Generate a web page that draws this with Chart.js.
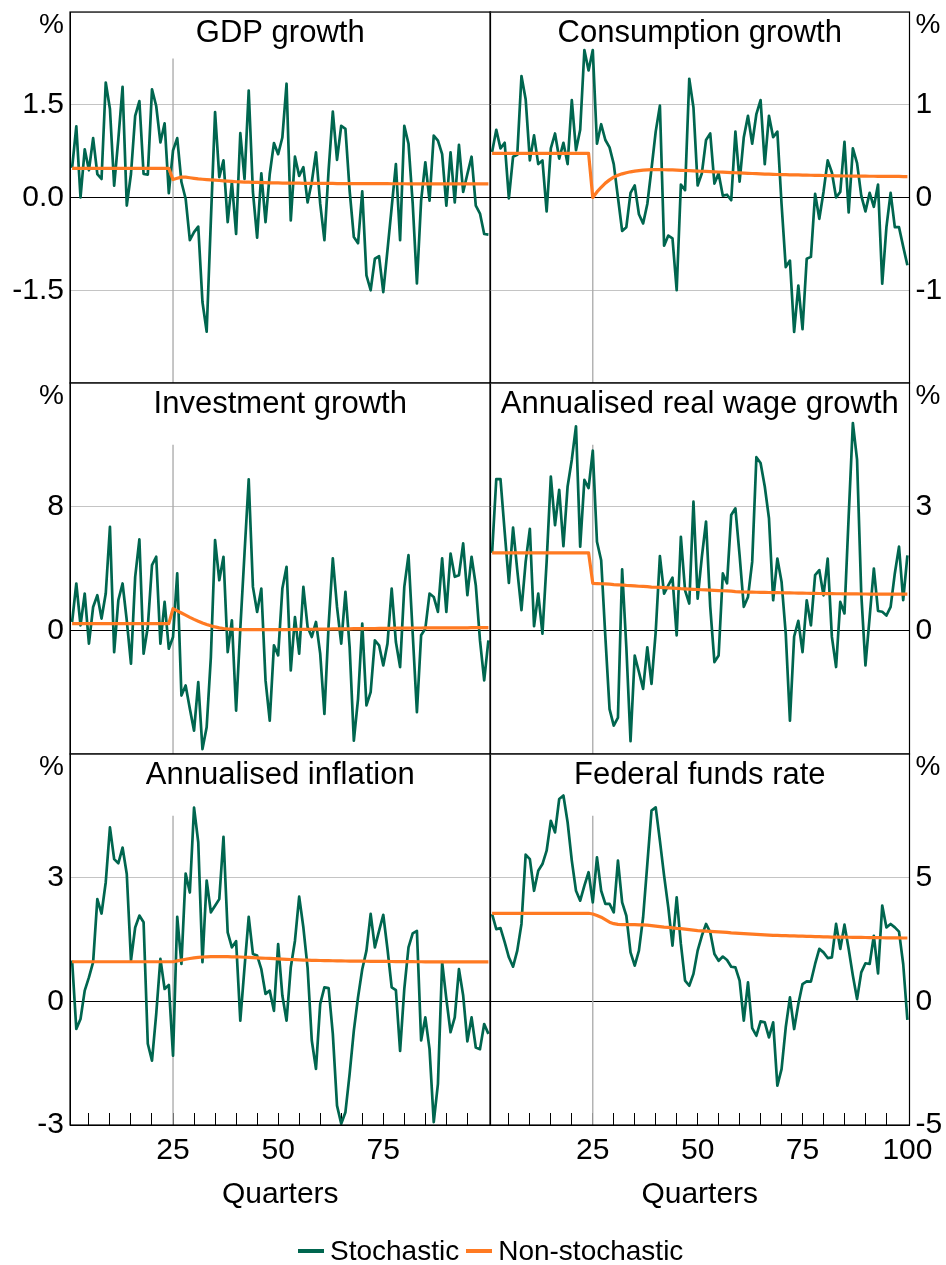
<!DOCTYPE html>
<html><head><meta charset="utf-8">
<script src="https://cdn.jsdelivr.net/npm/chart.js@4.4.1/dist/chart.umd.min.js"></script>
<style>
html,body{margin:0;padding:0;background:#fff;}
#page{position:relative;width:946px;height:1265px;overflow:hidden;background:#fff;font-family:"Liberation Sans",Arial,sans-serif;}
#page canvas{position:absolute;}
#legend{position:absolute;left:298px;top:1234px;height:34px;display:flex;align-items:center;font-size:28px;color:#000;white-space:nowrap;}
.sw{display:inline-block;width:26px;height:4px;margin-right:6px;}
</style></head><body>
<div id="page">
<canvas id="c1"></canvas><canvas id="c2"></canvas>
<canvas id="c3"></canvas><canvas id="c4"></canvas>
<canvas id="c5"></canvas><canvas id="c6"></canvas>
<div id="legend"><span class="sw" style="background:#00664F"></span><span>Stochastic</span><span class="sw" style="background:#FF7A22;margin-left:7px"></span><span>Non-stochastic</span></div>
</div>
<script>
// ---------- DATA ----------
const QUARTERS = [1,2,3,4,5,6,7,8,9,10,11,12,13,14,15,16,17,18,19,20,21,22,23,24,25,26,27,28,29,30,31,32,33,34,35,36,37,38,39,40,41,42,43,44,45,46,47,48,49,50,51,52,53,54,55,56,57,58,59,60,61,62,63,64,65,66,67,68,69,70,71,72,73,74,75,76,77,78,79,80,81,82,83,84,85,86,87,88,89,90,91,92,93,94,95,96,97,98,99,100];
const SHOCK_QUARTER = 25;
const X_TICKS_LEFT = [5,10,15,20,25,30,35,40,45,50,55,60,65,70,75,80,85,90,95];
const X_LABELS_LEFT = ['','','','','25','','','','','50','','','','','75','','','',''];
const X_TICKS_RIGHT = [5,10,15,20,25,30,35,40,45,50,55,60,65,70,75,80,85,90,95,100];
const X_LABELS_RIGHT = ['','','','','25','','','','','50','','','','','75','','','','','100'];

const GDP_Y_TICKS = [-3,-1.5,0,1.5,3];   const GDP_Y_LABELS = ['','-1.5','0.0','1.5',''];
const CONS_Y_TICKS = [-2,-1,0,1,2];     const CONS_Y_LABELS = ['','-1','0','1',''];
const INV_Y_TICKS = [-8,0,8,16];        const INV_Y_LABELS = ['','0','8',''];
const RW_Y_TICKS = [-3,0,3,6];          const RW_Y_LABELS = ['','0','3',''];
const INF_Y_TICKS = [-3,0,3,6];         const INF_Y_LABELS = ['-3','0','3',''];
const FF_Y_TICKS = [-5,0,5,10];         const FF_Y_LABELS = ['-5','0','5',''];

const GDP_STOCH = [0.48,1.15,0.00,0.78,0.44,0.96,0.38,0.30,1.86,1.43,
 0.19,0.95,1.79,-0.13,0.38,1.32,1.56,0.38,0.37,1.75,
 1.48,0.89,1.20,0.07,0.76,0.96,0.25,-0.02,-0.69,-0.56,
 -0.47,-1.69,-2.17,-0.37,1.38,0.33,0.60,-0.40,0.25,-0.59,
 1.04,0.30,1.73,0.09,-0.65,0.39,-0.40,0.38,0.88,0.70,
 0.97,1.84,-0.37,0.66,0.35,0.49,-0.08,0.25,0.73,-0.10,
 -0.69,0.44,1.39,0.61,1.16,1.11,0.11,-0.64,-0.74,0.10,
 -1.26,-1.50,-0.99,-0.95,-1.53,-0.85,-0.16,0.54,-0.69,1.16,
 0.87,-0.10,-1.39,-0.05,0.57,-0.05,1.00,0.92,0.70,-0.13,
 0.73,-0.08,0.85,0.09,0.38,0.66,-0.13,-0.26,-0.59,-0.60];
const GDP_NONSTOCH = [0.47,0.47,0.47,0.47,0.47,0.47,0.47,0.47,0.47,0.47,0.47,0.47,
 0.47,0.47,0.47,0.47,0.47,0.47,0.47,0.47,0.47,0.47,0.47,0.47,
 0.29,0.31,0.33,0.33,0.32,0.31,0.30,0.295,0.29,0.285,
 0.28,0.275,0.27,0.265,0.26,0.255,0.252,0.25,0.248,0.246,
 0.244,0.242,0.24,0.238,0.236,0.235,0.234,0.233,0.232,0.231,
 0.231,0.23,0.23,0.229,0.229,0.228,0.228,0.227,0.227,0.226,
 0.226,0.226,0.225,0.225,0.225,0.224,0.224,0.224,0.223,0.223,
 0.223,0.223,0.222,0.222,0.222,0.222,0.221,0.221,0.221,0.221,
 0.221,0.221,0.22,0.22,0.22,0.22,0.22,0.22,0.22,0.22,
 0.22,0.22,0.22,0.22,0.22,0.22];

const CONS_STOCH = [0.49,0.73,0.53,0.59,-0.01,0.44,0.46,1.31,1.06,0.40,
 0.67,0.36,0.40,-0.15,0.53,0.69,0.42,0.59,0.36,1.05,
 0.51,0.73,1.59,1.37,1.59,0.58,0.79,0.62,0.54,0.36,
 0.00,-0.36,-0.32,0.05,0.13,-0.18,-0.28,-0.07,0.31,0.71,
 0.99,-0.52,-0.41,-0.44,-1.00,0.14,0.08,1.28,0.97,0.13,
 0.26,0.62,0.69,0.15,0.26,0.02,0.03,-0.03,0.71,0.17,
 0.65,0.88,0.58,0.90,1.05,0.36,0.88,0.65,0.71,-0.07,
 -0.75,-0.68,-1.45,-0.95,-1.42,-0.66,-0.64,0.04,-0.23,0.06,
 0.40,0.27,0.00,0.06,0.60,-0.16,0.53,0.37,0.02,-0.15,
 0.05,-0.10,0.14,-0.93,-0.32,0.05,-0.32,-0.32,-0.53,-0.73];
const CONS_NONSTOCH = [0.475,0.475,0.475,0.475,0.475,0.475,0.475,0.475,0.475,0.475,0.475,0.475,
 0.475,0.475,0.475,0.475,0.475,0.475,0.475,0.475,0.475,0.475,0.475,0.475,
 0.00,0.06,0.11,0.155,0.19,0.22,0.24,0.255,0.267,0.277,
 0.285,0.29,0.295,0.298,0.30,0.30,0.30,0.299,0.298,0.297,
 0.295,0.293,0.291,0.289,0.287,0.285,0.283,0.281,0.279,0.277,
 0.275,0.273,0.271,0.269,0.267,0.265,0.263,0.261,0.259,0.257,
 0.255,0.253,0.251,0.249,0.248,0.247,0.246,0.245,0.244,0.243,
 0.242,0.241,0.240,0.239,0.238,0.237,0.236,0.235,0.234,0.233,
 0.232,0.232,0.231,0.231,0.230,0.230,0.229,0.229,0.228,0.228,
 0.228,0.227,0.227,0.227,0.226,0.226];

const INV_STOCH = [0.54,3.03,0.32,2.38,-0.86,1.51,2.27,0.76,2.38,6.70,
 -1.41,1.95,3.03,0.65,-2.16,3.46,5.88,-1.51,0.22,4.22,
 4.76,-0.86,1.84,-1.19,-0.43,3.68,-4.22,-3.57,-5.08,-6.49,
 -3.35,-7.68,-6.27,-1.73,5.84,3.24,4.76,-1.41,0.65,-5.19,
 0.11,4.97,9.77,2.81,1.19,2.70,-3.24,-5.84,-0.97,-1.62,
 2.70,4.11,-2.59,0.86,-1.51,2.81,0.22,-0.43,0.54,-1.51,
 -5.41,0.32,4.65,1.51,-0.86,2.49,-1.08,-7.14,-4.43,0.43,
 -4.86,-4.00,-0.65,-0.97,-2.27,-0.86,2.70,-0.76,-2.38,2.81,
 4.86,-0.22,-5.30,-0.32,0.11,2.38,2.16,1.19,4.65,1.19,
 4.97,3.46,3.57,5.62,2.27,4.76,2.92,-0.65,-3.24,-0.65];
const INV_NONSTOCH = [0.43,0.43,0.43,0.43,0.43,0.43,0.43,0.43,0.43,0.43,0.43,0.43,
 0.43,0.43,0.43,0.43,0.43,0.43,0.43,0.43,0.43,0.43,0.43,0.43,
 1.40,1.26,1.12,0.98,0.84,0.71,0.59,0.48,0.38,0.29,
 0.22,0.16,0.12,0.09,0.07,0.06,0.05,0.045,0.04,0.04,
 0.04,0.04,0.04,0.04,0.045,0.045,0.05,0.05,0.055,0.06,
 0.06,0.065,0.07,0.07,0.075,0.08,0.08,0.085,0.09,0.09,
 0.095,0.10,0.10,0.105,0.11,0.11,0.115,0.12,0.12,0.125,
 0.13,0.13,0.135,0.14,0.14,0.145,0.145,0.15,0.15,0.15,
 0.155,0.155,0.155,0.16,0.16,0.16,0.16,0.165,0.165,0.165,
 0.165,0.17,0.17,0.17,0.17,0.17];

const RW_STOCH = [1.88,3.67,3.67,2.39,1.15,2.49,1.46,0.49,1.66,2.46,
 0.10,0.89,-0.08,1.66,3.73,2.55,3.41,2.04,3.49,4.14,
 4.95,2.03,3.65,3.45,4.36,2.15,1.70,-0.16,-1.91,-2.31,
 -2.12,1.48,-0.41,-2.69,-0.61,-1.01,-1.42,-0.41,-1.30,-0.04,
 1.80,0.89,1.09,1.28,-0.12,2.27,0.97,0.65,3.12,0.77,
 1.78,2.64,0.57,-0.77,-0.61,1.38,1.14,2.80,2.96,1.82,
 0.57,0.81,1.66,4.20,4.06,3.49,2.72,0.73,1.74,1.18,
 -0.08,-2.19,-0.15,0.23,-0.53,0.73,0.12,1.34,1.46,0.85,
 1.74,-0.16,-0.89,0.69,0.41,2.76,5.03,4.14,0.89,-0.85,
 0.32,1.50,0.47,0.45,0.36,0.57,1.38,2.03,0.73,1.82];
const RW_NONSTOCH = [1.88,1.88,1.88,1.88,1.88,1.88,1.88,1.88,1.88,1.88,1.88,1.88,
 1.88,1.88,1.88,1.88,1.88,1.88,1.88,1.88,1.88,1.88,1.88,1.88,
 1.14,1.135,1.13,1.125,1.12,1.11,1.105,1.10,1.09,1.085,
 1.08,1.07,1.065,1.06,1.05,1.045,1.04,1.035,1.03,1.025,
 1.02,1.01,1.005,1.00,0.995,0.99,0.985,0.98,0.975,0.97,
 0.965,0.96,0.955,0.95,0.94,0.935,0.93,0.928,0.926,0.924,
 0.922,0.92,0.918,0.916,0.914,0.912,0.91,0.908,0.906,0.904,
 0.902,0.90,0.898,0.896,0.894,0.892,0.89,0.889,0.888,0.887,
 0.886,0.885,0.884,0.883,0.882,0.881,0.88,0.88,0.879,0.879,
 0.878,0.878,0.877,0.877,0.876,0.876];

const INF_STOCH = [0.99,-0.67,-0.43,0.26,0.58,0.95,2.48,2.13,2.89,4.22,
 3.45,3.35,3.73,3.09,0.99,1.79,2.08,1.92,-1.03,-1.44,
 -0.31,1.03,0.30,0.40,-1.32,2.05,0.91,3.10,2.64,4.70,
 3.86,0.95,2.93,2.16,2.32,2.48,3.99,1.67,1.31,1.46,
 -0.47,0.82,2.05,1.15,1.11,0.78,0.18,0.26,-0.23,1.39,
 0.14,-0.47,0.82,1.47,2.54,1.79,0.82,-0.95,-1.64,-0.06,
 0.34,0.32,-0.79,-2.53,-2.97,-2.69,-1.76,-0.71,0.10,0.78,
 1.23,2.12,1.31,1.71,2.10,1.27,0.34,0.27,-1.20,0.30,
 1.31,1.65,1.71,-0.95,-0.39,-1.16,-2.93,-2.00,0.95,0.06,
 -0.75,-0.39,0.78,0.14,-0.97,-0.39,-1.12,-1.16,-0.55,-0.79];
const INF_NONSTOCH = [0.96,0.96,0.96,0.96,0.96,0.96,0.96,0.96,0.96,0.96,0.96,0.96,0.96,
 0.96,0.96,0.96,0.96,0.96,0.96,0.96,0.96,0.96,0.96,0.96,0.96,
 0.98,1.00,1.02,1.04,1.055,1.065,1.075,1.08,1.085,1.085,
 1.085,1.085,1.085,1.08,1.08,1.075,1.07,1.065,1.06,1.055,
 1.05,1.045,1.04,1.035,1.03,1.025,1.02,1.015,1.01,1.005,
 1.00,0.998,0.996,0.993,0.99,0.988,0.986,0.984,0.982,0.98,
 0.978,0.976,0.975,0.974,0.973,0.972,0.971,0.97,0.969,0.968,
 0.967,0.966,0.965,0.964,0.963,0.962,0.961,0.96,0.96,0.959,
 0.959,0.958,0.958,0.957,0.957,0.957,0.956,0.956,0.956,0.955,
 0.955,0.955,0.955,0.955,0.955];

const FF_STOCH = [3.53,2.92,2.96,2.39,1.78,1.40,2.05,3.13,5.93,5.75,
 4.47,5.28,5.55,6.09,7.30,6.83,8.18,8.32,7.24,5.69,
 4.47,4.07,4.68,5.22,4.00,5.82,4.47,3.94,3.94,3.60,
 5.69,4.00,3.46,1.98,1.44,2.05,3.40,5.55,7.71,7.84,
 6.50,5.08,3.80,2.25,4.20,2.32,0.84,0.63,1.11,2.05,
 2.65,3.13,2.79,1.91,1.64,1.81,1.67,1.40,1.37,0.84,
 -0.78,0.77,-1.08,-1.39,-0.81,-0.85,-1.46,-0.85,-3.41,-2.74,
 -1.05,0.16,-1.12,-0.11,0.70,0.81,0.80,1.51,2.12,1.98,
 1.75,1.78,3.13,2.12,3.10,2.12,1.04,0.09,1.17,1.54,
 1.51,2.65,1.13,3.87,2.99,3.13,2.99,2.82,1.51,-0.75];
const FF_NONSTOCH = [3.56,3.56,3.56,3.56,3.56,3.56,3.56,3.56,3.56,3.56,3.56,3.56,
 3.56,3.56,3.56,3.56,3.56,3.56,3.56,3.56,3.56,3.56,3.56,3.56,
 3.53,3.47,3.40,3.30,3.20,3.14,3.11,3.10,3.10,3.10,
 3.10,3.09,3.09,3.08,3.06,3.04,3.02,3.00,2.99,2.97,
 2.95,2.94,2.92,2.90,2.88,2.86,2.85,2.84,2.83,2.82,
 2.81,2.80,2.79,2.77,2.76,2.75,2.74,2.73,2.72,2.71,
 2.70,2.69,2.68,2.67,2.665,2.66,2.655,2.65,2.645,2.64,
 2.635,2.63,2.625,2.62,2.615,2.61,2.605,2.60,2.598,2.595,
 2.592,2.59,2.588,2.585,2.582,2.58,2.578,2.575,2.572,2.57,
 2.568,2.566,2.564,2.562,2.56,2.56];

// ---------- STYLE / LAYOUT ----------
const FONT = '"Liberation Sans", Arial, sans-serif';
const GREEN = '#00664F', ORANGE = '#FF7A22', GRID = '#c4c4c4', VLINE = '#a8a8a8';

const panelText = {
  id: 'panelText',
  afterDraw(chart, args, opts) {
    const {ctx, chartArea: a} = chart;
    ctx.save();
    ctx.fillStyle = '#000';
    ctx.font = '31px ' + FONT;
    ctx.textAlign = 'center'; ctx.textBaseline = 'alphabetic';
    ctx.fillText(opts.title, (a.left + a.right) / 2, a.top + 30);
    ctx.font = '28px ' + FONT;
    ctx.textBaseline = 'middle';
    if (opts.side === 'left') { ctx.textAlign = 'right'; ctx.fillText('%', a.left - 6, a.top + 13); }
    else { ctx.textAlign = 'left'; ctx.fillText('%', a.right + 6, a.top + 13); }
    ctx.restore();
  }
};
const frame = {
  id: 'frame',
  afterDatasetsDraw(chart) {
    const {ctx, chartArea: a} = chart;
    ctx.save(); ctx.strokeStyle = '#000'; ctx.lineWidth = 1.2;
    ctx.strokeRect(a.left, a.top, a.right - a.left, a.bottom - a.top);
    ctx.restore();
  }
};

function makePanel(id, cfg) {
  const cv = document.getElementById(id);
  const [bx, by, bw, bh] = cfg.box;
  cv.width = bw; cv.height = bh;
  cv.style.left = bx + 'px'; cv.style.top = by + 'px';
  cv.style.width = bw + 'px'; cv.style.height = bh + 'px';
  const yT = cfg.yTicks;
  const xH = cfg.bottom ? 95 : 0;
  new Chart(cv, {
    type: 'line',
    data: { datasets: [
      { label: 'Non-stochastic', data: QUARTERS.map((q, i) => ({x: q, y: cfg.ns[i]})), borderColor: ORANGE, borderWidth: 3.2, pointRadius: 0, borderJoinStyle: 'round', order: 0 },
      { label: 'Stochastic', data: QUARTERS.map((q, i) => ({x: q, y: cfg.st[i]})), borderColor: GREEN, borderWidth: 2.7, pointRadius: 0, borderJoinStyle: 'round', order: 1 },
      { label: 'shock', data: [{x: SHOCK_QUARTER, y: yT[0]}, {x: SHOCK_QUARTER, y: cfg.vTop}], borderColor: VLINE, borderWidth: 1.3, pointRadius: 0, order: 2 }
    ]},
    options: {
      responsive: false, animation: false, devicePixelRatio: 1,
      layout: { padding: cfg.pad, autoPadding: false },
      plugins: { legend: {display: false}, tooltip: {enabled: false}, panelText: {title: cfg.title, side: cfg.side} },
      scales: {
        x: {
          type: 'linear', min: 0.5, max: 100.5, display: !!cfg.bottom,
          afterBuildTicks: s => { s.ticks = cfg.xTicks.map(v => ({value: v})); },
          ticks: { autoSkip: false, maxRotation: 0, minRotation: 0, padding: 20, color: '#000',
                   font: {family: FONT, size: 30}, callback: (v, i) => cfg.xLabels[i] },
          grid: { drawOnChartArea: false, drawTicks: true, tickLength: -12, lineWidth: 1,
                  color: c => (c.tick && c.tick.value === 100) ? 'rgba(0,0,0,0)' : '#000' },
          border: { display: true, color: '#000', width: 1 },
          title: { display: true, text: 'Quarters', color: '#000', font: {family: FONT, size: 30}, padding: {top: 0, bottom: 7} },
          afterFit: s => { s.height = xH; s.paddingLeft = 0; s.paddingRight = 0; }
        },
        y: {
          position: cfg.side, min: yT[0], max: yT[yT.length - 1],
          afterBuildTicks: s => { s.ticks = yT.map(v => ({value: v})); },
          ticks: { autoSkip: false, padding: 6, color: '#000', font: {family: FONT, size: 30},
                   callback: (v, i) => cfg.yLabels[i] },
          grid: { drawTicks: false, lineWidth: 1, color: c => (c.tick && c.tick.value === 0) ? '#000' : GRID },
          border: { display: true, color: '#000', width: 1 },
          afterFit: s => { s.width = cfg.axisW; s.paddingTop = 0; s.paddingBottom = 0; }
        }
      }
    },
    plugins: [panelText, frame]
  });
}

const L = {x: 0, w: 493, axisW: 70, padL: 0, padR: 2.5};
const R = {x: 487, w: 459, axisW: 36.5, padL: 3, padR: 0};
const ROWS = [
  {y: 0, h: 386, padT: 12, padB: 3},
  {y: 380, h: 377, padT: 3, padB: 3},
  {y: 751, h: 514, padT: 3, padB: 45}
];
function geom(col, row) {
  return { box: [col.x, row.y, col.w, row.h], axisW: col.axisW,
           pad: {left: col.padL, right: col.padR, top: row.padT, bottom: row.padB} };
}

makePanel('c1', Object.assign(geom(L, ROWS[0]), {side: 'left', title: 'GDP growth', st: GDP_STOCH, ns: GDP_NONSTOCH,
  yTicks: GDP_Y_TICKS, yLabels: GDP_Y_LABELS, vTop: 2.25, xTicks: X_TICKS_LEFT, xLabels: X_LABELS_LEFT}));
makePanel('c2', Object.assign(geom(R, ROWS[0]), {side: 'right', title: 'Consumption growth', st: CONS_STOCH, ns: CONS_NONSTOCH,
  yTicks: CONS_Y_TICKS, yLabels: CONS_Y_LABELS, vTop: 1.5, xTicks: X_TICKS_RIGHT, xLabels: X_LABELS_RIGHT}));
makePanel('c3', Object.assign(geom(L, ROWS[1]), {side: 'left', title: 'Investment growth', st: INV_STOCH, ns: INV_NONSTOCH,
  yTicks: INV_Y_TICKS, yLabels: INV_Y_LABELS, vTop: 12, xTicks: X_TICKS_LEFT, xLabels: X_LABELS_LEFT}));
makePanel('c4', Object.assign(geom(R, ROWS[1]), {side: 'right', title: 'Annualised real wage growth', st: RW_STOCH, ns: RW_NONSTOCH,
  yTicks: RW_Y_TICKS, yLabels: RW_Y_LABELS, vTop: 4.5, xTicks: X_TICKS_RIGHT, xLabels: X_LABELS_RIGHT}));
makePanel('c5', Object.assign(geom(L, ROWS[2]), {side: 'left', bottom: true, title: 'Annualised inflation', st: INF_STOCH, ns: INF_NONSTOCH,
  yTicks: INF_Y_TICKS, yLabels: INF_Y_LABELS, vTop: 4.5, xTicks: X_TICKS_LEFT, xLabels: X_LABELS_LEFT}));
makePanel('c6', Object.assign(geom(R, ROWS[2]), {side: 'right', bottom: true, title: 'Federal funds rate', st: FF_STOCH, ns: FF_NONSTOCH,
  yTicks: FF_Y_TICKS, yLabels: FF_Y_LABELS, vTop: 7.5, xTicks: X_TICKS_RIGHT, xLabels: X_LABELS_RIGHT}));
</script>
</body></html>
